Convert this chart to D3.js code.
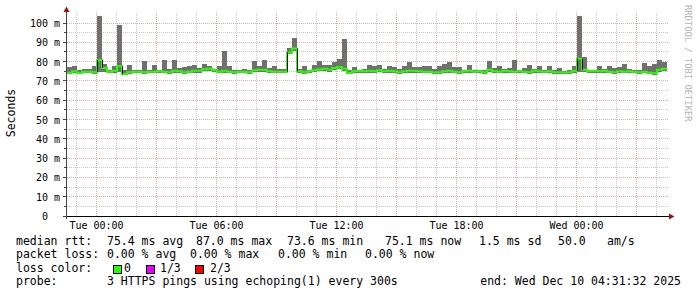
<!DOCTYPE html>
<html>
<head>
<meta charset="utf-8">
<script src="https://cdn.jsdelivr.net/npm/d3@7"></script>
<style>
  html, body { margin: 0; padding: 0; background: #fff; }
  svg { display: block; font-family: "DejaVu Sans Mono", monospace; }
</style>
</head>
<body>
<svg id="chart" width="697" height="297"></svg>
<script>
// smokeping rtt graph, 30h window, one bin = 15 min
const startTime = Date.UTC(2025, 11, 8, 22, 31, 32)
const endTime = Date.UTC(2025, 11, 10, 4, 31, 32)
const stepSec = 900

// median rtt per bin (ms)
const medianMs = [
  74.5, 75.2, 74.3, 75.0, 75.0, 74.8, 81.0, 77.0, 75.0, 75.5,
  77.8, 73.8, 74.8, 75.0, 75.0, 74.8, 75.0, 75.0, 75.3, 75.0,
  74.8, 75.5, 75.3, 74.8, 75.0, 75.5, 75.5, 76.3, 76.5, 75.8,
  75.0, 75.5, 75.0, 74.8, 75.0, 75.0, 74.7, 75.8, 76.0, 76.0,
  75.2, 75.0, 75.0, 75.0, 85.0, 87.0, 75.3, 74.8, 75.2, 75.8,
  76.2, 76.5, 76.0, 77.0, 77.5, 76.5, 74.4, 75.2, 75.5, 75.3,
  75.5, 75.2, 75.8, 75.3, 75.5, 75.2, 74.8, 75.3, 75.5, 75.5,
  75.2, 75.0, 75.0, 74.6, 74.8, 75.3, 75.5, 75.0, 74.8, 75.3,
  75.5, 75.0, 75.2, 74.8, 76.0, 75.3, 75.0, 75.5, 75.2, 75.0,
  75.3, 75.0, 74.8, 75.5, 75.2, 75.0, 75.3, 74.8, 74.8, 74.6,
  74.8, 75.5, 81.8, 76.0, 75.3, 75.5, 75.2, 75.5, 75.0, 74.8,
  75.3, 75.0, 75.2, 75.0, 74.8, 75.0, 74.5, 74.2, 76.0, 76.5
]
// highest ping per bin (ms)
const maxMs = [
  77.5, 78.0, 76.0, 76.5, 76.5, 77.8, 104, 79.0, 76.0, 78.0,
  99.0, 76.0, 78.5, 76.0, 76.0, 80.4, 76.0, 78.6, 76.0, 81.3,
  76.5, 80.9, 77.0, 77.5, 77.8, 78.3, 77.2, 78.8, 77.8, 76.5,
  78.0, 86.0, 78.0, 76.0, 76.0, 76.3, 76.0, 80.7, 78.0, 81.0,
  77.0, 78.0, 76.5, 76.5, 87.5, 92.4, 76.6, 78.0, 76.0, 78.6,
  80.7, 78.5, 78.5, 80.0, 81.8, 91.8, 76.0, 77.3, 76.0, 76.5,
  78.5, 77.8, 78.5, 76.6, 77.8, 77.3, 76.6, 77.8, 80.0, 77.3,
  77.3, 77.8, 77.8, 76.6, 77.8, 79.1, 79.8, 77.3, 77.3, 76.0,
  78.5, 75.8, 76.0, 75.8, 80.7, 77.0, 77.8, 76.6, 77.0, 81.3,
  76.0, 77.0, 78.5, 76.6, 77.8, 76.0, 77.8, 75.8, 77.0, 75.5,
  75.8, 77.8, 104, 82.6, 76.0, 76.0, 77.8, 76.6, 78.0, 77.0,
  77.3, 79.0, 76.6, 76.0, 76.0, 79.3, 78.0, 79.0, 81.0, 80.1
]
// lowest ping per bin (ms)
const minMs = [
  74.0, 74.4, 73.8, 74.3, 74.2, 74.0, 75.0, 75.0, 74.3, 74.6,
  75.0, 73.6, 74.0, 74.2, 74.3, 74.0, 74.2, 74.1, 74.5, 74.2,
  74.0, 74.6, 74.5, 74.0, 74.2, 74.6, 74.6, 75.3, 75.5, 74.9,
  74.2, 74.6, 74.2, 74.0, 74.2, 74.1, 73.9, 74.9, 75.0, 75.0,
  74.4, 74.2, 74.2, 74.2, 84.3, 86.0, 74.5, 74.0, 74.4, 74.9,
  75.3, 75.5, 75.0, 76.0, 76.5, 75.5, 73.7, 74.4, 74.6, 74.4,
  74.6, 74.4, 74.8, 74.4, 74.6, 74.4, 74.0, 74.4, 74.6, 74.6,
  74.4, 74.2, 74.2, 73.8, 74.0, 74.4, 74.6, 74.2, 74.0, 74.4,
  74.6, 74.2, 74.4, 74.0, 75.0, 74.4, 74.2, 74.6, 74.4, 74.2,
  74.4, 74.2, 74.0, 74.6, 74.4, 74.2, 74.4, 73.9, 73.9, 73.8,
  74.0, 74.6, 75.0, 75.0, 74.4, 74.6, 74.4, 74.6, 74.2, 74.0,
  74.4, 74.2, 74.4, 74.2, 74.0, 74.2, 73.7, 73.4, 75.0, 75.5
]

const yTicks = [0, 10, 20, 30, 40, 50, 60, 70, 80, 90, 100]

const legendRtt = [
  ["median rtt:", 16], ["75.4 ms avg", 107], ["87.0 ms max", 196], ["73.6 ms min", 287],
  ["75.1 ms now", 385], ["1.5 ms sd", 479], ["50.0", 558], ["am/s", 607]
]
const legendLoss = [
  ["packet loss:", 16], ["0.00 % avg", 107], ["0.00 % max", 190],
  ["0.00 % min", 278], ["0.00 % now", 365]
]
const lossNames = ["0", "1/3", "2/3"]
const lossColors = ["#26ff00", "#e600ff", "#ff0000"]
const probeText = "3 HTTPS pings using echoping(1) every 300s"
const endText = "end: Wed Dec 10 04:31:32 2025"

const svg = d3.select("#chart")

const x = d3.scaleUtc().domain([startTime, endTime]).range([67, 667])
const y = d3.scaleLinear().domain([0, 100]).range([216.5, 23.5])
const yTop = 16

const times = medianMs.map((d, i) => startTime + i * stepSec * 1000)
const bins = medianMs.map((m, i) => ({
  t0: times[i], t1: times[i] + stepSec * 1000,
  med: m, max: maxMs[i], min: minMs[i]
}))

// grid
const grid = svg.append("g").attr("shape-rendering", "crispEdges")
const minorY = d3.range(5, 101, 10)
grid.selectAll("line.hmin").data(minorY).join("line")
  .attr("x1", 67).attr("x2", 668)
  .attr("y1", d => Math.round(y(d)) - 0.5).attr("y2", d => Math.round(y(d)) - 0.5)
  .attr("stroke", "#c8c8c8").attr("stroke-dasharray", "1,1")

const hours = d3.utcHour.range(new Date(startTime), new Date(endTime))
grid.selectAll("line.vgrid").data(hours).join("line")
  .attr("x1", d => Math.floor(x(d)) + 0.5).attr("x2", d => Math.floor(x(d)) + 0.5)
  .attr("y1", 13).attr("y2", 216)
  .attr("stroke", d => d.getUTCHours() % 3 === 0 ? "#e8a8a8" : "#c8c8c8")
  .attr("stroke-dasharray", "1,1")

grid.selectAll("line.hmaj").data(yTicks.filter(d => d > 0)).join("line")
  .attr("x1", 67).attr("x2", 668)
  .attr("y1", d => Math.round(y(d)) - 0.5).attr("y2", d => Math.round(y(d)) - 0.5)
  .attr("stroke", "#e8a8a8").attr("stroke-dasharray", "1,1")

// smoke
svg.append("g").selectAll("rect").data(bins).join("rect")
  .attr("x", d => x(d.t0))
  .attr("width", d => x(d.t1) - x(d.t0))
  .attr("y", d => Math.max(yTop, y(d.max)))
  .attr("height", d => y(d.min) - Math.max(yTop, y(d.max)))
  .attr("fill", "#707070")
  .attr("shape-rendering", "crispEdges")

// median line, step shaped
const medPts = bins.map(d => [d.t0, d.med]).concat([[endTime, medianMs[medianMs.length - 1]]])
svg.append("path")
  .attr("d", d3.line().x(d => x(d[0])).y(d => y(d[1])).curve(d3.curveStepAfter)(medPts))
  .attr("fill", "none").attr("stroke", lossColors[0]).attr("stroke-width", 2)

// dark edges where the median jumps
const jumps = bins.slice(1).map((d, i) => ({t: d.t0, a: bins[i].med, b: d.med}))
  .filter(d => Math.abs(d.a - d.b) > 3)
svg.append("g").selectAll("line").data(jumps).join("line")
  .attr("x1", d => Math.round(x(d.t)) + 0.5).attr("x2", d => Math.round(x(d.t)) + 0.5)
  .attr("y1", d => y(d.a)).attr("y2", d => y(d.b))
  .attr("stroke", "#111").attr("stroke-width", 1)

// axes
const ax = svg.append("g").attr("shape-rendering", "crispEdges")
ax.append("line").attr("x1", 66.5).attr("x2", 66.5).attr("y1", 10).attr("y2", 219)
  .attr("stroke", "#444")
ax.append("line").attr("x1", 63).attr("x2", 670).attr("y1", 216.5).attr("y2", 216.5)
  .attr("stroke", "#000")
ax.selectAll("line.yt").data(yTicks).join("line")
  .attr("x1", 63).attr("x2", 67)
  .attr("y1", d => Math.round(y(d)) - 0.5).attr("y2", d => Math.round(y(d)) - 0.5)
  .attr("stroke", "#444")
ax.selectAll("line.ymt").data(minorY).join("line")
  .attr("x1", 64).attr("x2", 67)
  .attr("y1", d => Math.round(y(d)) - 0.5).attr("y2", d => Math.round(y(d)) - 0.5)
  .attr("stroke", "#444")

svg.append("path").attr("d", "M63.5,12 L66.5,6.5 L69.5,12 Z").attr("fill", "#a01010")
svg.append("path").attr("d", "M669,213.5 L674.5,216.5 L669,219.5 Z").attr("fill", "#a01010")

// y tick labels
const yl = svg.append("g").attr("font-size", 10).attr("fill", "#000")
yl.selectAll("text.num").data(yTicks).join("text")
  .attr("x", 48).attr("y", d => y(d)).attr("dy", "0.35em")
  .attr("text-anchor", "end").text(d => d)
yl.selectAll("text.unit").data(yTicks.filter(d => d > 0)).join("text")
  .attr("x", 54).attr("y", d => y(d)).attr("dy", "0.35em").text("m")

// x labels
const labelTimes = d3.utcHour.every(6).range(new Date(startTime), new Date(endTime))
svg.append("g").attr("font-size", 10).selectAll("text").data(labelTimes).join("text")
  .attr("x", d => x(d)).attr("y", 228.5).attr("text-anchor", "middle")
  .text(d3.utcFormat("%a %H:%M"))

svg.append("text").attr("transform", "translate(14.5,113) rotate(-90)")
  .attr("text-anchor", "middle").attr("font-size", 11.5).text("Seconds")

svg.append("text").attr("transform", "translate(685,5) rotate(90)")
  .attr("font-size", 8.8).attr("fill", "#b4b4b4").text("RRDTOOL / TOBI OETIKER")

// legend
const lg = svg.append("g").attr("font-size", 11.5).attr("fill", "#000")
  .style("white-space", "pre")
lg.selectAll("text.r1").data(legendRtt).join("text")
  .attr("x", d => d[1]).attr("y", 244.5).text(d => d[0])
lg.selectAll("text.r2").data(legendLoss).join("text")
  .attr("x", d => d[1]).attr("y", 258).text(d => d[0])
lg.append("text").attr("x", 16).attr("y", 271.5).text("loss color:")
const boxX = [114, 147, 196]
const boxLabelX = [124, 160, 210]
lossNames.forEach((n, i) => {
  lg.append("rect").attr("x", boxX[i] - 0.5).attr("y", 265.5).attr("width", 8).attr("height", 8)
    .attr("fill", lossColors[i]).attr("stroke", "#000").attr("stroke-width", 1)
  lg.append("text").attr("x", boxLabelX[i]).attr("y", 271.5).text(n)
})
lg.append("text").attr("x", 16).attr("y", 285).text("probe:")
lg.append("text").attr("x", 107).attr("y", 285).text(probeText)
lg.append("text").attr("x", 681).attr("y", 285).attr("text-anchor", "end").text(endText)
</script>
</body>
</html>
